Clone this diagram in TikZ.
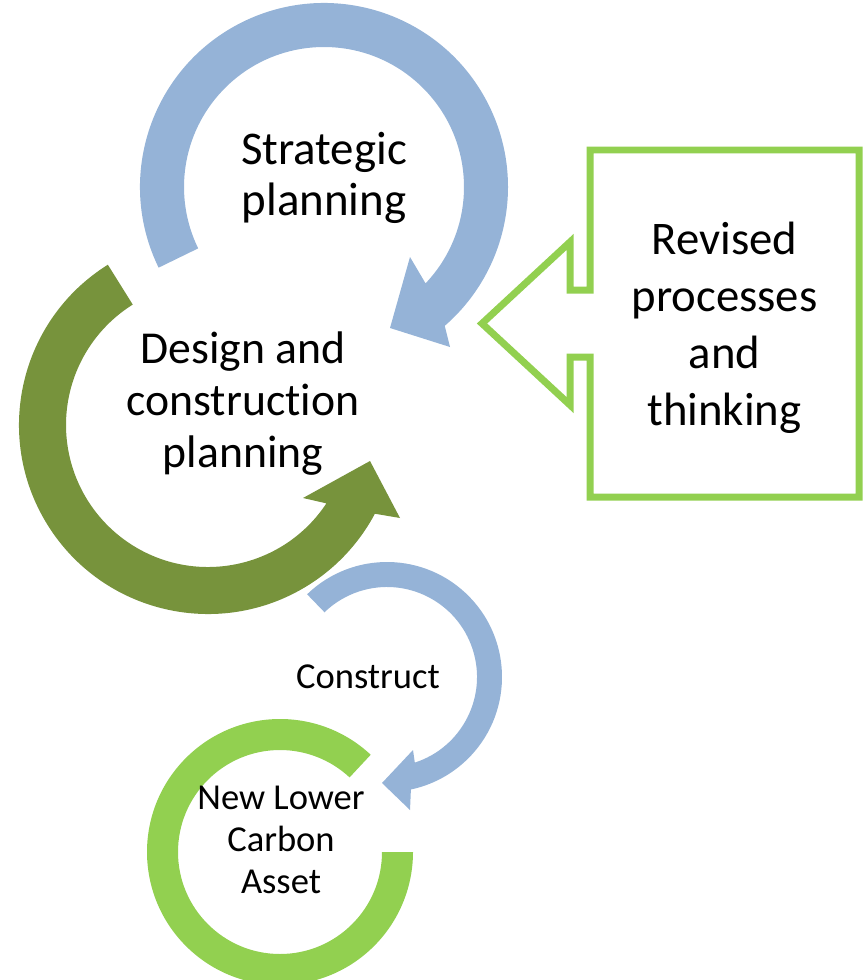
\documentclass[tikz,border=0pt]{standalone}
\usepackage{fontspec}
\setmainfont[Ligatures=NoCommon]{Carlito}
\usepackage{xcolor}

\definecolor{planblue}{RGB}{149,179,215}
\definecolor{designgreen}{RGB}{119,147,60}
\definecolor{assetgreen}{RGB}{146,208,80}

\begin{document}
\begin{tikzpicture}[
    x=0.02cm, y=0.02cm,
    lbl/.style     = {align=center, inner sep=0pt, text=black},
    bigtxt/.style  = {font=\fontsize{26.7}{29}\selectfont},
    smalltxt/.style = {font=\fontsize{20.8}{23.9}\selectfont},
    callout/.style = {draw=assetgreen, line width=0.14cm, fill=white},
]
    \useasboundingbox (0,0) rectangle (866,-980);

    % ── Arc centres ──
    \coordinate (cs) at (324,-187);
    \coordinate (cd) at (208,-425);
    \coordinate (cc) at (387,-677);
    \coordinate (ca) at (280,-852);

    % ── Strategic planning (blue, clockwise) ──
    \fill[planblue] ([shift={(cs)}]206:184) arc[start angle=206, end angle=-49, radius=184]
        -- (450,-347) -- (390,-328) -- (410,-257)
        -- ([shift={(cs)}]-43.5:140) arc[start angle=-43.5, end angle=206, radius=140] -- cycle;

    % ── Design and construction planning (olive, anticlockwise) ──
    \fill[designgreen] ([shift={(cd)}]122:189) arc[start angle=122, end angle=332, radius=189]
        -- (400,-518) -- (370,-461) -- (303,-498)
        -- ([shift={(cd)}]326.5:142) arc[start angle=326.5, end angle=122, radius=142] -- cycle;

    % ── Construct (blue, clockwise) ──
    \fill[planblue] ([shift={(cc)}]134:115) arc[start angle=134, end angle=-78, radius=115]
        -- (410,-810) -- (382,-783) -- (413,-750)
        -- ([shift={(cc)}]-72:90) arc[start angle=-72, end angle=134, radius=90] -- cycle;

    % ── New asset (green ring) ──
    \fill[assetgreen] ([shift={(ca)}]47:133) arc[start angle=47, end angle=360, radius=133]
        -- ([shift={(ca)}]0:102) arc[start angle=360, end angle=47, radius=102] -- cycle;

    % ── Feedback callout ──
    \draw[callout] (590,-150) -- (859,-150) -- (859,-497) -- (590,-497) -- (590,-357)
        -- (570,-357) -- (570,-405) -- (482,-323.5) -- (570,-242) -- (570,-290)
        -- (590,-290) -- cycle;

    % ── Labels ──
    \node[lbl, bigtxt] (strategic) at (324,-178) {Strategic\\planning};
    \node[lbl, font=\fontsize{26}{29.6}\selectfont] (design) at (243,-404) {Design and\\construction\\planning};
    \node[lbl, font=\fontsize{26.6}{32.4}\selectfont] (revised) at (724.5,-328) {Revised\\processes\\and\\thinking};
    \node[lbl, smalltxt] (construct) at (368,-677) {Construct};
    \node[lbl, smalltxt] (asset) at (281,-840) {New Lower\\Carbon\\Asset};

\end{tikzpicture}
\end{document}
